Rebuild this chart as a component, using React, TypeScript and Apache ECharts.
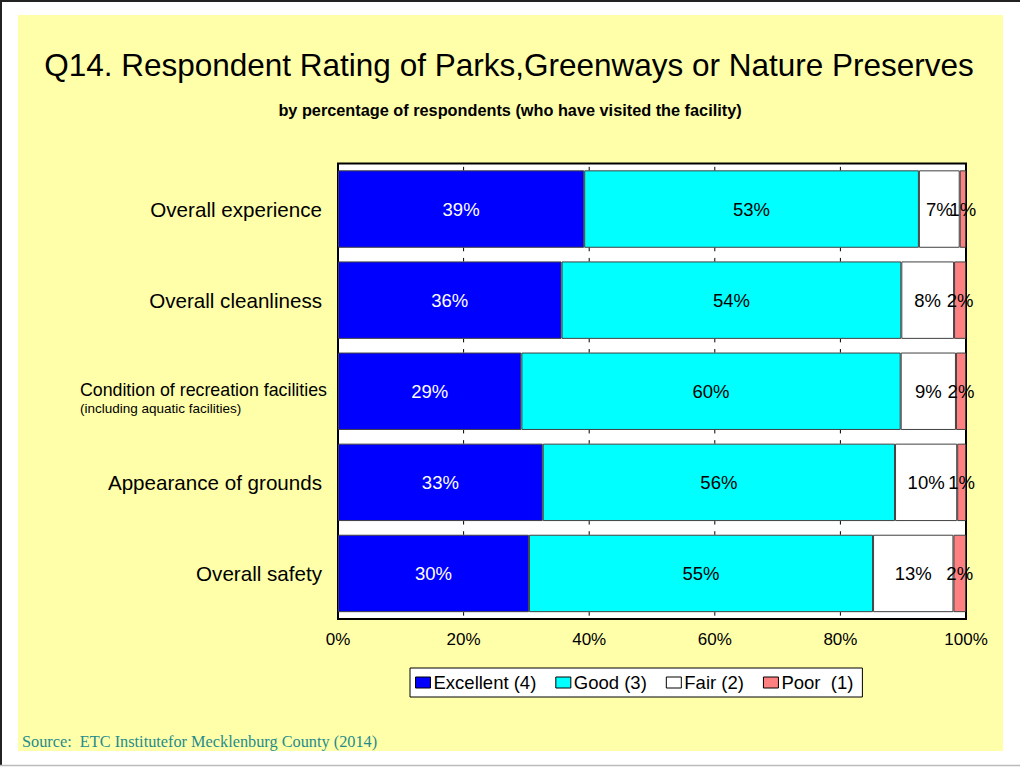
import React, { useEffect, useRef } from "react";
import * as echarts from "echarts";

const categories = [
  "Overall experience",
  "Overall cleanliness",
  "Condition of recreation facilities",
  "Appearance of grounds",
  "Overall safety",
];
const categoryNotes = ["", "", "(including aquatic facilities)", "", ""];
const excellent = [39.2, 35.6, 29.2, 32.6, 30.4];
const good = [53.3, 54.1, 60.4, 56.1, 54.8];
const fair = [6.5, 8.4, 8.8, 9.9, 12.8];
const poor = [1.0, 1.9, 1.6, 1.4, 2.0];
const seriesNames = ["Excellent (4)", "Good (3)", "Fair (2)", "Poor  (1)"];
const seriesColors = ["#0000FF", "#00FFFF", "#FFFFFF", "#FF8080"];
const labelColors = ["#FFFFFF", "#000000", "#000000", "#000000"];
const xTicks = [20, 40, 60, 80];

const FONT = "'Liberation Sans', Arial, sans-serif";

export default function App() {
  const ref = useRef<HTMLDivElement>(null);
  useEffect(() => {
    if (!ref.current) return;
    const chart = echarts.init(ref.current, null, { renderer: "svg" });
    const values = [excellent, good, fair, poor];
    const barSeries = values.map((vals, i) => ({
      name: seriesNames[i],
      type: "bar",
      stack: "total",
      barCategoryGap: "15%",
      data: vals,
      itemStyle: { color: seriesColors[i], borderColor: "#404040", borderWidth: 1 },
      label: {
        show: true,
        position: "inside",
        formatter: (p: any) => Math.round(p.value) + "%",
        color: labelColors[i],
        fontFamily: FONT,
        fontSize: 18.5,
      },
      emphasis: { disabled: true },
      z: 2,
    }));
    const tickData: number[][] = [];
    for (let b = 0; b <= categories.length; b++) {
      for (const t of xTicks) tickData.push([t, 0, b]);
    }
    const tickSeries = {
      type: "custom",
      name: "ticks",
      data: tickData,
      encode: { x: 0, y: 1 },
      clip: false,
      z: 5,
      silent: true,
      renderItem: (params: any, api: any) => {
        const x = api.coord([api.value(0), 0])[0];
        const b = api.value(2);
        const bandH = api.size([0, 1])[1];
        const c0 = api.coord([0, 0])[1];
        const yB = c0 - bandH / 2 + b * bandH;
        const half = bandH * 0.075;
        const len = 3.5;
        const children: any[] = [];
        const style = { stroke: "#000", lineWidth: 1 };
        if (b > 0) {
          children.push({
            type: "line",
            shape: { x1: x, y1: yB - half, x2: x, y2: yB - half + len },
            style,
          });
        }
        if (b < categories.length) {
          children.push({
            type: "line",
            shape: { x1: x, y1: yB + half - len, x2: x, y2: yB + half },
            style,
          });
        }
        return { type: "group", children };
      },
    };
    chart.setOption({
      animation: false,
      backgroundColor: "#FFFFFF",
      textStyle: { fontFamily: FONT },
      graphic: [
        {
          type: "rect",
          shape: { x: 18, y: 15, width: 985, height: 736 },
          style: { fill: "#FFFFAA" },
          z: -10,
        },
        {
          type: "line",
          shape: { x1: 0, y1: 1, x2: 1020, y2: 1 },
          style: { stroke: "#222", lineWidth: 2 },
        },
        {
          type: "line",
          shape: { x1: 1, y1: 0, x2: 1, y2: 766 },
          style: { stroke: "#222", lineWidth: 2 },
        },
        {
          type: "line",
          shape: { x1: 0, y1: 765.5, x2: 1020, y2: 765.5 },
          style: { stroke: "#BBBBBB", lineWidth: 1.5 },
        },
        {
          type: "text",
          x: 509,
          y: 65,
          style: {
            text: "Q14. Respondent Rating of Parks,Greenways or Nature Preserves",
            font: "31.5px " + FONT,
            fill: "#000",
            textAlign: "center",
            textVerticalAlign: "middle",
          },
        },
        {
          type: "text",
          x: 510,
          y: 110,
          style: {
            text: "by percentage of respondents (who have visited the facility)",
            font: "bold 16.3px " + FONT,
            fill: "#000",
            textAlign: "center",
            textVerticalAlign: "middle",
          },
        },
        {
          type: "text",
          x: 22,
          y: 741,
          style: {
            text: "Source:  ETC Institutefor Mecklenburg County (2014)",
            font: "16.3px 'Liberation Serif', 'Times New Roman', serif",
            fill: "#1F8C8C",
            textAlign: "left",
            textVerticalAlign: "middle",
          },
        },
      ],
      legend: {
        data: seriesNames,
        left: 410,
        top: 668,
        backgroundColor: "#FFFFFF",
        borderColor: "#000000",
        borderWidth: 1,
        padding: [5, 9, 5, 5],
        itemWidth: 15,
        itemHeight: 11,
        itemGap: 19,
        icon: "rect",
        selectedMode: false,
        itemStyle: { borderColor: "#000", borderWidth: 1 },
        textStyle: { fontFamily: FONT, fontSize: 18.5, color: "#000", padding: [0, 0, 0, -2] },
      },
      grid: {
        left: 338,
        right: 54,
        top: 163.5,
        height: 455.5,
        show: true,
        backgroundColor: "#FFFFFF",
        borderColor: "#000000",
        borderWidth: 2,
        containLabel: false,
      },
      xAxis: {
        type: "value",
        min: 0,
        max: 100,
        interval: 20,
        axisLine: { show: false },
        axisTick: { show: false },
        splitLine: { show: false },
        axisLabel: {
          formatter: "{value}%",
          fontFamily: FONT,
          fontSize: 17,
          color: "#000",
          margin: 12,
        },
      },
      yAxis: {
        type: "category",
        inverse: true,
        data: categories,
        axisLine: { show: false },
        axisTick: { show: false },
        axisLabel: {
          margin: 16,
          color: "#000",
          fontFamily: FONT,
          fontSize: 20.6,
          formatter: (v: string, idx: number) =>
            categoryNotes[idx]
              ? "{sp| }\n{m|" + v + "}\n{n|" + categoryNotes[idx] + "}"
              : "{a|" + v + "}",
          rich: {
            a: { fontFamily: FONT, fontSize: 20.6, color: "#000" },
            sp: { fontFamily: FONT, fontSize: 10, lineHeight: 14 },
            m: { fontFamily: FONT, fontSize: 17.8, color: "#000", lineHeight: 20, padding: [0, -5, 0, 0] },
            n: { fontFamily: FONT, fontSize: 13.5, color: "#000", align: "left", lineHeight: 16 },
          },
        },
      },
      series: [...barSeries, tickSeries],
    });
    return () => chart.dispose();
  }, []);
  return (
    <div
      ref={ref}
      style={{ position: "absolute", left: 0, top: 0, width: 1020, height: 769 }}
    />
  );
}
